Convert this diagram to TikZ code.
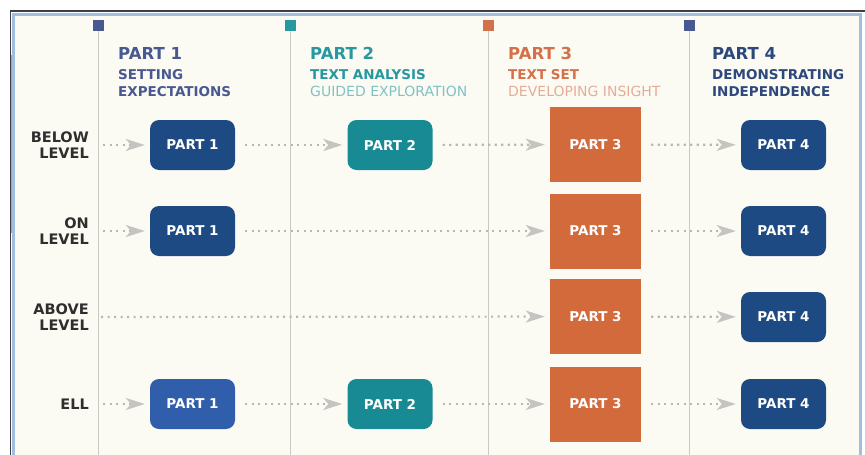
\documentclass[tikz,border=0pt]{standalone}
\usepackage{fontspec}
\setmainfont{DejaVu Sans}
\definecolor{cream}{RGB}{252, 251, 243}
\definecolor{framedark}{RGB}{62, 62, 68}
\definecolor{frameblue}{RGB}{162, 190, 222}
\definecolor{gridgray}{RGB}{202, 202, 196}
\definecolor{navy}{RGB}{30, 74, 132}
\definecolor{ellblue}{RGB}{48, 94, 170}
\definecolor{tealbox}{RGB}{24, 138, 148}
\definecolor{orangebox}{RGB}{210, 106, 60}
\definecolor{slate}{RGB}{72, 88, 145}
\definecolor{tealhead}{RGB}{40, 152, 160}
\definecolor{tealsoft}{RGB}{125, 195, 198}
\definecolor{orangehead}{RGB}{212, 112, 74}
\definecolor{orangesoft}{RGB}{230, 172, 152}
\definecolor{navyhead}{RGB}{45, 72, 125}
\definecolor{dotgray}{RGB}{184, 184, 178}
\definecolor{tipgray}{RGB}{196, 196, 192}
\usetikzlibrary{arrows.meta, positioning, calc}

\begin{document}
\begin{tikzpicture}[
  x=1pt, y=-1pt,
  box/.style={rounded corners=9pt, minimum width=85pt, minimum height=50pt, inner sep=0pt, text=white, font=\fontsize{13.5}{14}\selectfont\bfseries},
  setbox/.style={fill=orangebox, minimum width=91pt, minimum height=75pt, inner sep=0pt, text=white, font=\fontsize{13.5}{14}\selectfont\bfseries},
  flow/.style={dotgray, line width=2.2pt, dash pattern=on 2.2pt off 4.3pt, -{Stealth[length=19pt, width=12pt, inset=5pt, color=tipgray]}, shorten >=5pt, shorten <=10pt},
  rowlabel/.style={anchor=east, align=right, inner sep=0pt, text=black!82, font=\fontsize{14.5}{16}\selectfont\bfseries},
  head/.style={anchor=base west, inner sep=0pt, font=\fontsize{16.5}{16}\selectfont\bfseries},
  sub/.style={anchor=base west, inner sep=0pt, font=\fontsize{13.5}{14}\selectfont\bfseries},
  soft/.style={anchor=base west, inner sep=0pt, font=\fontsize{14}{14}\selectfont},
  tick/.style={minimum size=11pt, inner sep=0pt},
  column/.style={gridgray, line width=1pt}
]
  \useasboundingbox (0,0) rectangle (865,455);

  % Frame
  \fill[white] (0,0) rectangle (865,455);
  \fill[cream] (12,13) rectangle (862,455);
  \draw[frameblue, line width=3pt] (13.5,455) -- (13.5,14.5) -- (860.5,14.5) -- (860.5,455);
  \draw[framedark, line width=1.2pt] (10.5,455) -- (10.5,11) -- (865,11);
  \draw[orangebox!70, line width=1.5pt] (11.5,55) -- (11.5,233);

  % Columns
  \node[tick, fill=slate] (t1) at (98.5,25.5) {};
  \node[tick, fill=tealhead] (t2) at (290.5,25.5) {};
  \node[tick, fill=orangehead] (t3) at (488.5,25.5) {};
  \node[tick, fill=slate] (t4) at (689.5,25.5) {};
  \foreach \t in {t1, t2, t3, t4}
    \draw[column] (\t.south) -- (\t.south |- 0,455);

  % Headers
  \node[head, text=slate] (h1) at (118,59) {PART 1};
  \node[sub, text=slate] (h1a) at (118,79) {SETTING};
  \node[sub, text=slate] (h1b) at (118,96) {EXPECTATIONS};

  \node[head, text=tealhead] (h2) at (310,59) {PART 2};
  \node[sub, text=tealhead] (h2a) at (310,79) {TEXT ANALYSIS};
  \node[soft, text=tealsoft] (h2b) at (310,96) {GUIDED EXPLORATION};

  \node[head, text=orangehead] (h3) at (508,59) {PART 3};
  \node[sub, text=orangehead] (h3a) at (508,79) {TEXT SET};
  \node[soft, text=orangesoft] (h3b) at (508,96) {DEVELOPING INSIGHT};

  \node[head, text=navyhead] (h4) at (712,59) {PART 4};
  \node[sub, text=navyhead] (h4a) at (712,79) {DEMONSTRATING};
  \node[sub, text=navyhead] (h4b) at (712,96) {INDEPENDENCE};

  % Row labels
  \node[rowlabel] (lbelow) at (89,145) {BELOW\\LEVEL};
  \node[rowlabel] (lon) at (89,231) {ON\\LEVEL};
  \node[rowlabel] (labove) at (89,317) {ABOVE\\LEVEL};
  \node[rowlabel] (lell) at (89,404) {ELL};

  % Below level
  \coordinate (sbelow) at (93,145);
  \node[box, fill=navy] (bl1) at (192.5,145) {PART 1};
  \node[box, fill=tealbox] (bl2) at (390,145) {PART 2};
  \node[setbox] (bl3) at (595.5,144.5) {PART 3};
  \node[box, fill=navy] (bl4) at (783.5,145) {PART 4};

  \draw[flow] (sbelow) -- (bl1);
  \draw[flow] (bl1) -- (bl2);
  \draw[flow] (bl2) -- (bl3);
  \draw[flow] (bl3) -- (bl4);

  % On level
  \coordinate (son) at (93,231);
  \node[box, fill=navy] (on1) at (192.5,231) {PART 1};
  \node[setbox] (on3) at (595.5,231) {PART 3};
  \node[box, fill=navy] (on4) at (783.5,231) {PART 4};

  \draw[flow] (son) -- (on1);
  \draw[flow] (on1) -- (on3);
  \draw[flow] (on3) -- (on4);

  % Above level
  \coordinate (sabove) at (91,317);
  \node[setbox] (ab3) at (595.5,316.5) {PART 3};
  \node[box, fill=navy] (ab4) at (783.5,317) {PART 4};

  \draw[flow] (sabove) -- (ab3);
  \draw[flow] (ab3) -- (ab4);

  % ELL
  \coordinate (sell) at (93,404);
  \node[box, fill=ellblue] (ell1) at (192.5,404) {PART 1};
  \node[box, fill=tealbox] (ell2) at (390,404) {PART 2};
  \node[setbox] (ell3) at (595.5,404) {PART 3};
  \node[box, fill=navy] (ell4) at (783.5,404) {PART 4};

  \draw[flow] (sell) -- (ell1);
  \draw[flow] (ell1) -- (ell2);
  \draw[flow] (ell2) -- (ell3);
  \draw[flow] (ell3) -- (ell4);
\end{tikzpicture}
\end{document}
